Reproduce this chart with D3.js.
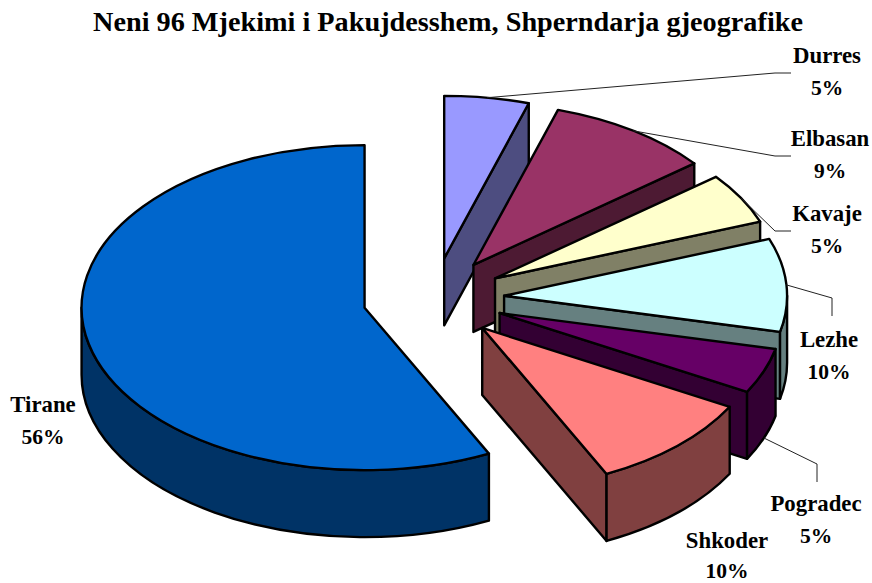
<!DOCTYPE html>
<html><head><meta charset="utf-8">
<style>html,body{margin:0;padding:0;background:#fff}svg{display:block}</style>
<script src="https://cdn.jsdelivr.net/npm/d3@7/dist/d3.min.js"></script>
</head><body><div id="c"></div>
<script>
const titleText = "Neni 96 Mjekimi i Pakujdesshem, Shperndarja gjeografike";
const categories = ["Durres","Elbasan","Kavaje","Lezhe","Pogradec","Shkoder","Tirane"];
const percentLabels = ["5%","9%","5%","10%","5%","10%","56%"];
// slice sizes as they appear on the tilted pie
const values = [4.83,9.42,5.06,9.25,4.5,9.7,57.24];
const topColors = ["#9999ff","#993366","#ffffcc","#ccffff","#660066","#ff8080","#0066cc"];
const sideColors = ["#4d4d80","#4d1a33","#808066","#668080","#330033","#804040","#003366"];
const labelX = [827,830,827,829,816,727,43];
const nameBaseline = [63,146,221,347,511,548,412];
const percentBaseline = [95,178,253,379,543,578,444];
const leaderElbowX = [775,775,775,832,817,null,null];
const leaderElbowY = [73,156,231,298,464,null,null];
const leaderEndX = [791,791,791,832,817,null,null];
const leaderEndY = [73,156,231,316,482,null,null];
const W=872,H=583,cx=433.5,cy=298.5,rx=283,ry=162.5,depth=67,explodeX=0.25,explodeY=0.25;
const FONT='"Liberation Serif",serif';

const svg=d3.select("#c").append("svg").attr("width",W).attr("height",H);
const pie=d3.pie().sort(null).value(d=>d).startAngle(0).endAngle(2*Math.PI);
const arcs=pie(values);

function geom(d){
  const mid=(d.startAngle+d.endAngle)/2;
  const ax=cx+explodeX*rx*Math.sin(mid), ay=cy-explodeY*ry*Math.cos(mid);
  const p=(t,dz=0)=>[ax+rx*Math.sin(t),ay-ry*Math.cos(t)+dz];
  return {mid,ax,ay,p};
}
const arcTo=(pt,large,sweep)=>`A${rx},${ry} 0 ${large} ${sweep} ${pt[0]},${pt[1]}`;

const g=svg.append("g");
arcs.forEach((d,i)=>{
  const {ax,ay,p}=geom(d), a=d.startAngle, b=d.endAngle;
  const style=(sel,fill)=>sel.attr("fill",fill).attr("stroke","#000").attr("stroke-width",2.4).attr("stroke-linejoin","round");
  // radial face on the clockwise side, when it faces the viewer
  if(Math.sin(b)>1e-6){
    const q=p(b),q2=p(b,depth);
    style(g.append("path").attr("d",`M${ax},${ay}L${q[0]},${q[1]}L${q2[0]},${q2[1]}L${ax},${ay+depth}Z`),sideColors[i]);
  }
  if(Math.sin(a)<-1e-6){
    const q=p(a),q2=p(a,depth);
    style(g.append("path").attr("d",`M${ax},${ay}L${q[0]},${q[1]}L${q2[0]},${q2[1]}L${ax},${ay+depth}Z`),sideColors[i]);
  }
  // rim
  const w0=Math.max(a,Math.PI/2), w1=Math.min(b,3*Math.PI/2);
  if(w1>w0){
    const s=p(w0),e=p(w1),e2=p(w1,depth),s2=p(w0,depth);
    style(g.append("path").attr("d",`M${s[0]},${s[1]}${arcTo(e,0,1)}L${e2[0]},${e2[1]}${arcTo(s2,0,0)}Z`),sideColors[i]);
  }
  // top
  const s=p(a),e=p(b-1e-6);
  style(g.append("path").attr("d",`M${ax},${ay}L${s[0]},${s[1]}${arcTo(e,(b-a)>Math.PI?1:0,1)}Z`),topColors[i]);
});

// leader lines
arcs.forEach((d,i)=>{
  if(leaderElbowX[i]===null) return;
  const {mid,p}=geom(d);
  const start=p(mid, Math.cos(mid)<0 ? depth : 0);
  svg.append("path").attr("d",`M${start[0]},${start[1]}L${leaderElbowX[i]},${leaderElbowY[i]}L${leaderEndX[i]},${leaderEndY[i]}`)
    .attr("fill","none").attr("stroke","#222").attr("stroke-width",1);
});

// labels
categories.forEach((c,i)=>{
  const t=svg.append("g").attr("font-family",FONT).attr("font-weight","bold").attr("text-anchor","middle").attr("fill","#000");
  t.append("text").attr("x",labelX[i]).attr("y",nameBaseline[i]).attr("font-size",22.8).text(c);
  t.append("text").attr("x",labelX[i]).attr("y",percentBaseline[i]).attr("font-size",21.5).text(percentLabels[i]);
});
svg.append("text").attr("x",448).attr("y",31).attr("text-anchor","middle")
  .attr("font-family",FONT).attr("font-weight","bold").attr("font-size",26.5)
  .attr("textLength",710).attr("lengthAdjust","spacingAndGlyphs").attr("fill","#000").text(titleText);
</script></body></html>
